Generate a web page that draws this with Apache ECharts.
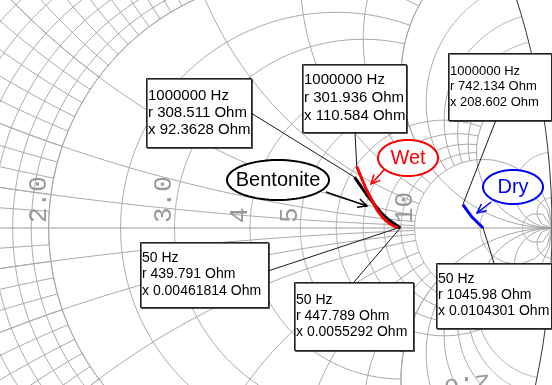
<!DOCTYPE html>
<html>
<head>
<meta charset="utf-8">
<script src="https://cdn.jsdelivr.net/npm/echarts@6/dist/echarts.min.js"></script>
<style>
  html, body { margin: 0; padding: 0; background: #fff; }
  #chart { width: 552px; height: 385px; }
</style>
</head>
<body>
<div id="chart"></div>
<script>
// Reference impedance of the Smith chart (Ohm)
const Z0 = 50;

// Impedance sweeps, 50 Hz -> 1 MHz (resistance / reactance in Ohm)
const wetR  = [439.791, 416, 395, 377, 339, 301.936];
const wetX  = [0.00461814, 11.5, 26.4, 43.9, 81.6, 110.584];
const bentR = [447.789, 412, 386, 343, 308.511];
const bentX = [0.0055292, 22.7, 40.7, 72, 92.3628];
const dryR  = [1045.98, 966, 876, 742.134];
const dryX  = [0.0104301, 68.6, 127, 208.602];

// Sweep end frequencies (Hz)
const freqStart = 50;
const freqStop = 1000000;

// Sample names
const sampleNames = ['Bentonite', 'Wet', 'Dry'];

// Resistance-circle labels on the real axis
const rLabelValues = [2, 3, 4, 5, 10];
const rLabelTexts  = ['2.0', '3.0', '4', '5', '10'];

// Normalised impedance -> reflection coefficient
function gamma(r, x) {
  const den = (r + 1) * (r + 1) + x * x;
  return [(r * r + x * x - 1) / den, (2 * x) / den];
}
function toGamma(R, X) {
  return R.map((v, i) => gamma(v / Z0, X[i] / Z0));
}

// ---- Smith chart grid ----
const gridCurves = [];
function rCircle(r, xmax, color, width) {
  const pts = [];
  const tmax = Math.atan(xmax);
  const n = 240;
  for (let i = 0; i <= n; i++) {
    const t = -tmax + 2 * tmax * i / n;
    pts.push(gamma(r, Math.tan(t)));
  }
  gridCurves.push({ pts, color, width });
}
function xArc(x, rmax, color, width) {
  const pts = [];
  const tmax = Math.atan(rmax);
  const n = 200;
  for (let i = 0; i <= n; i++) {
    const t = tmax * i / n;
    pts.push(gamma(Math.tan(t), x));
  }
  gridCurves.push({ pts, color, width });
}
const G = '#a9a9a9';
// fine mesh
for (let k = 1; k <= 20; k++) {
  const v = k / 10;
  rCircle(v, 2, G, 1);
  xArc(v, 2, G, 1);
  xArc(-v, 2, G, 1);
}
// medium mesh
[2, 2.5, 3, 4, 5].forEach(v => rCircle(v, 5, G, 1));
[6, 7, 8, 9].forEach(v => rCircle(v, 10, G, 1));
[0.2, 0.5, 1, 2, 3, 4, 5].forEach(v => { xArc(v, 10, G, 1); xArc(-v, 10, G, 1); });
[6, 7, 8, 9].forEach(v => { xArc(v, 10, G, 1); xArc(-v, 10, G, 1); });
// coarse mesh
[0.5, 1].forEach(v => rCircle(v, 5, G, 1));
[10, 20, 50].forEach(v => rCircle(v, 1e6, G, 1));
[5, 10, 20, 50].forEach(v => { xArc(v, 1e6, G, 1); xArc(-v, 1e6, G, 1); });
// real axis and outer circle
gridCurves.push({ pts: [[-1, 0], [1, 0]], color: '#999', width: 1 });
rCircle(0, 1e6, '#333', 1);

const chart = echarts.init(document.getElementById('chart'));

const option = {
  animation: false,
  backgroundColor: '#fff',
  grid: { left: 0, right: 0, top: 0, bottom: 0 },
  xAxis: { type: 'value', min: 203 / 755, max: 1, show: false },
  yAxis: { type: 'value', min: -157 / 755, max: 228 / 755, show: false },
  series: [
    {
      type: 'custom',
      coordinateSystem: 'cartesian2d',
      clip: true,
      silent: true,
      z: 1,
      data: gridCurves.map((c, i) => [0.5, 0, i]),
      renderItem: function (params, api) {
        const c = gridCurves[params.dataIndex];
        return {
          type: 'polyline',
          shape: { points: c.pts.map(p => api.coord(p)) },
          style: { stroke: c.color, lineWidth: c.width, fill: null }
        };
      }
    },
    {
      name: sampleNames[0], type: 'line', data: toGamma(bentR, bentX),
      showSymbol: false, z: 3,
      lineStyle: { color: '#000', width: 3 }
    },
    {
      name: sampleNames[1], type: 'line', data: toGamma(wetR, wetX),
      showSymbol: false, z: 4,
      lineStyle: { color: '#ff0000', width: 3 }
    },
    {
      name: sampleNames[2], type: 'line', data: toGamma(dryR, dryX),
      showSymbol: false, z: 4,
      lineStyle: { color: '#0000ff', width: 3 }
    }
  ]
};
chart.setOption(option);

// ---- annotations ----
function px(g) { return chart.convertToPixel({ gridIndex: 0 }, g); }
const graphics = [];

// resistance labels along the real axis
const labelFont = '26px "Liberation Mono", monospace';
rLabelValues.forEach((v, i) => {
  const p = px([(v - 1) / (v + 1), 0]);
  graphics.push({
    type: 'text', x: p[0] + 3, y: p[1] - 5, rotation: Math.PI / 2, z: 2, silent: true,
    style: { text: rLabelTexts[i], font: labelFont, fill: '#999',
             textAlign: 'left', textVerticalAlign: 'bottom' }
  });
});
graphics.push({
  type: 'text', x: 467, y: 384, rotation: Math.PI + 0.12, z: 2, silent: true,
  style: { text: '2.0', font: labelFont, fill: '#999',
           textAlign: 'center', textVerticalAlign: 'middle' }
});

function fmtBox(f, R, X) {
  return f + ' Hz\nr ' + R + ' Ohm\nx ' + X + ' Ohm';
}
// marker boxes: [left, top, width, height, font size, line height, text, anchor, point]
const bent = toGamma(bentR, bentX), wet = toGamma(wetR, wetX), dry = toGamma(dryR, dryX);
const boxes = [
  [146, 78, 105, 69, 15, 17, fmtBox(freqStop, bentR[bentR.length - 1], bentX[bentX.length - 1]), [251, 113], bent[bent.length - 1]],
  [302, 64, 104, 68, 15, 18, fmtBox(freqStop, wetR[wetR.length - 1], wetX[wetX.length - 1]), [355, 132], wet[wet.length - 1]],
  [448, 53, 103, 67, 13, 15.5, fmtBox(freqStop, dryR[dryR.length - 1], dryX[dryX.length - 1]), [496, 120], dry[dry.length - 1]],
  [140, 242, 128, 65, 14, 16.5, fmtBox(freqStart, wetR[0], wetX[0]), [268, 271], wet[0]],
  [294, 282, 119, 68, 14, 16, fmtBox(freqStart, bentR[0], bentX[0]), [354, 282], bent[0]],
  [436, 263, 115, 65, 14, 16, fmtBox(freqStart, dryR[0], dryX[0]), [494, 263], dry[0]]
];
boxes.forEach(b => {
  const p = px(b[8]);
  graphics.push({
    type: 'line', z: 5, silent: true,
    shape: { x1: b[7][0], y1: b[7][1], x2: p[0], y2: p[1] },
    style: { stroke: '#1a1a1a', lineWidth: 1 }
  });
  graphics.push({
    type: 'rect', z: 6, silent: true,
    shape: { x: b[0] + 0.5, y: b[1] + 0.5, width: b[2], height: b[3] },
    style: { fill: '#fff', stroke: '#222', lineWidth: 1,
             shadowColor: 'rgba(0,0,0,0.55)', shadowOffsetX: 1, shadowOffsetY: 1, shadowBlur: 0 }
  });
  const nLines = 3;
  const top = b[1] + b[3] / 2 - nLines * b[5] / 2;
  graphics.push({
    type: 'text', z: 7, silent: true, x: b[0] + 2, y: top,
    style: { text: b[6], font: b[4] + 'px "Liberation Sans", Arial, sans-serif',
             fill: '#000', lineHeight: b[5], textAlign: 'left', textVerticalAlign: 'top' }
  });
});

// callouts: [centre x, centre y, rx, ry, colour, arrow from, arrow to]
function ellipsePts(cx, cy, rx, ry) {
  const pts = [];
  for (let i = 0; i < 72; i++) {
    const a = i / 72 * Math.PI * 2;
    pts.push([cx + rx * Math.cos(a), cy + ry * Math.sin(a)]);
  }
  return pts;
}
const callouts = [
  [278, 180, 51, 20, '#000', [326, 192], [367, 206]],
  [408, 158, 30, 18, '#ff0000', [384, 170], [371, 184]],
  [513, 187, 30, 17, '#0000ff', [491, 202], [477, 213]]
];
callouts.forEach((c, i) => {
  graphics.push({
    type: 'polygon', z: 8, silent: true,
    shape: { points: ellipsePts(c[0], c[1], c[2], c[3]) },
    style: { fill: '#fff', stroke: c[4], lineWidth: 2 }
  });
  graphics.push({
    type: 'text', z: 9, silent: true, x: c[0], y: c[1],
    style: { text: sampleNames[i], font: '20px "Liberation Sans", Arial, sans-serif',
             fill: c[4], textAlign: 'center', textVerticalAlign: 'middle' }
  });
  const [x1, y1] = c[5], [x2, y2] = c[6];
  const a = Math.atan2(y2 - y1, x2 - x1), L = 10, w = 0.45;
  graphics.push({
    type: 'polyline', z: 8, silent: true,
    shape: { points: [[x1, y1], [x2, y2]] },
    style: { stroke: c[4], lineWidth: 1.5, fill: null }
  });
  graphics.push({
    type: 'polyline', z: 8, silent: true,
    shape: { points: [[x2 - L * Math.cos(a - w), y2 - L * Math.sin(a - w)], [x2, y2],
                      [x2 - L * Math.cos(a + w), y2 - L * Math.sin(a + w)]] },
    style: { stroke: c[4], lineWidth: 1.5, fill: null }
  });
});

chart.setOption({ graphic: { elements: graphics } });
</script>
</body>
</html>
